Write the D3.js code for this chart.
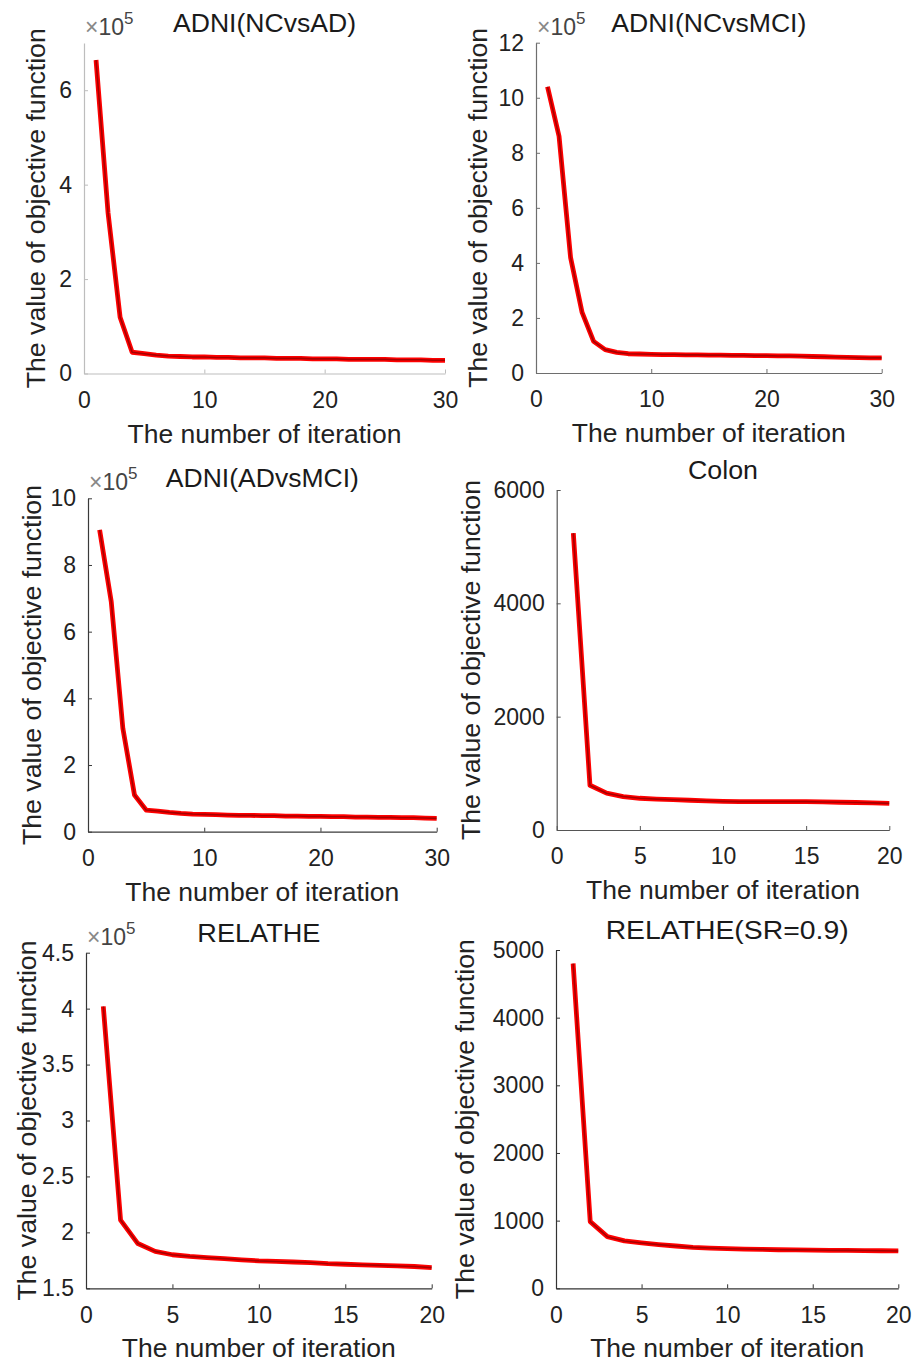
<!DOCTYPE html>
<html lang="en">
<head>
  <meta charset="UTF-8">
  <title>Objective function convergence</title>
  <script src="https://d3js.org/d3.v7.min.js"></script>
  <style>
    body {
      margin: 0;
      padding: 0;
      background: #ffffff;
    }
    svg text {
      font-family: "Liberation Sans", Arial, sans-serif;
      fill: #1a1a1a;
    }
  </style>
</head>
<body>
  <svg id="chart"></svg>

  <script>
    // iteration numbers
    const iters30 = [1,2,3,4,5,6,7,8,9,10,11,12,13,14,15,16,17,18,19,20,21,22,23,24,25,26,27,28,29,30];
    const iters20 = [1,2,3,4,5,6,7,8,9,10,11,12,13,14,15,16,17,18,19,20];

    // objective values, in the units shown on each y axis (x10^5 where marked)
    const ncVsAd = [6.64, 3.4, 1.19, 0.45, 0.42, 0.39, 0.37, 0.36, 0.35, 0.35, 0.34, 0.34, 0.33, 0.33, 0.33,
                    0.32, 0.32, 0.32, 0.31, 0.31, 0.31, 0.30, 0.30, 0.30, 0.30, 0.29, 0.29, 0.29, 0.28, 0.28];
    const ncVsMci = [10.4, 8.6, 4.2, 2.2, 1.15, 0.85, 0.75, 0.70, 0.69, 0.68, 0.67, 0.67, 0.66, 0.66, 0.65,
                     0.65, 0.64, 0.64, 0.63, 0.63, 0.62, 0.62, 0.61, 0.60, 0.59, 0.58, 0.57, 0.56, 0.55, 0.55];
    const adVsMci = [9.05, 6.9, 3.1, 1.1, 0.65, 0.62, 0.58, 0.55, 0.53, 0.52, 0.51, 0.50, 0.49, 0.49, 0.48,
                     0.48, 0.47, 0.47, 0.46, 0.46, 0.45, 0.45, 0.44, 0.44, 0.43, 0.43, 0.42, 0.42, 0.41, 0.40];
    const colon = [5240, 790, 650, 590, 560, 545, 535, 525, 515, 505, 500, 500, 500, 500, 500, 495, 490, 485, 478, 470];
    const relathe = [4.02, 2.11, 1.90, 1.83, 1.80, 1.785, 1.775, 1.765, 1.755, 1.745, 1.74, 1.735, 1.73, 1.72,
                     1.715, 1.71, 1.705, 1.70, 1.695, 1.685];
    const relatheSr = [4800, 985, 763, 700, 670, 645, 625, 605, 595, 585, 580, 575, 570, 568, 565, 562, 560, 558, 555, 552];

    // tick labels
    const xTicks30 = [0, 10, 20, 30];
    const xTicks20 = [0, 5, 10, 15, 20];
    const yTicksNcAd = [0, 2, 4, 6];
    const yTicksNcMci = [0, 2, 4, 6, 8, 10, 12];
    const yTicksAdMci = [0, 2, 4, 6, 8, 10];
    const yTicksColon = [0, 2000, 4000, 6000];
    const yTicksRelathe = [1.5, 2, 2.5, 3, 3.5, 4, 4.5];
    const yTicksSr = [0, 1000, 2000, 3000, 4000, 5000];

    const titles = ["ADNI(NCvsAD)", "ADNI(NCvsMCI)", "ADNI(ADvsMCI)", "Colon", "RELATHE", "RELATHE(SR=0.9)"];
    const xLabel = "The number of iteration";
    const yLabel = "The value of objective function";

    // panel layout (plot rectangles in page pixels)
    const panels = [
      { title: titles[0], x: iters30, y: ncVsAd, xDom: [0, 30], yDom: [0, 7], xt: xTicks30, yt: yTicksNcAd, exp: true,
        left: 84, right: 445, top: 43, bottom: 373.5, yOff: 48, titleW: 183, axis: "#bdbdbd" },
      { title: titles[1], x: iters30, y: ncVsMci, xDom: [0, 30], yDom: [0, 12], xt: xTicks30, yt: yTicksNcMci, exp: true,
        left: 536, right: 881.7, top: 42.7, bottom: 373, yOff: 58, titleW: 195, axis: "#6e6e6e" },
      { title: titles[2], x: iters30, y: adVsMci, xDom: [0, 30], yDom: [0, 10], xt: xTicks30, yt: yTicksAdMci, exp: true,
        left: 88, right: 436.7, top: 498.3, bottom: 831.7, yOff: 56, titleW: 193, axis: "#3a3a3a" },
      { title: titles[3], x: iters20, y: colon, xDom: [0, 20], yDom: [0, 6000], xt: xTicks20, yt: yTicksColon, exp: false,
        left: 556.7, right: 889.3, top: 490, bottom: 830, yOff: 86, titleW: 70, axis: "#555" },
      { title: titles[4], x: iters20, y: relathe, xDom: [0, 20], yDom: [1.5, 4.5], xt: xTicks20, yt: yTicksRelathe, exp: true,
        left: 86, right: 431.7, top: 952.7, bottom: 1288.3, yOff: 59, titleW: 123, axis: "#333" },
      { title: titles[5], x: iters20, y: relatheSr, xDom: [0, 20], yDom: [0, 5000], xt: xTicks20, yt: yTicksSr, exp: false,
        left: 556, right: 898.3, top: 950, bottom: 1288.3, yOff: 91, titleW: 243, axis: "#333" }
    ];

    const width = 916, height = 1365;
    const svg = d3.select("#chart").attr("width", width).attr("height", height);

    panels.forEach(p => {
      const g = svg.append("g");
      const x = d3.scaleLinear().domain(p.xDom).range([p.left, p.right]);
      const y = d3.scaleLinear().domain(p.yDom).range([p.bottom, p.top]);

      // x axis (MATLAB style: inward ticks, no box)
      const gx = g.append("g")
        .attr("transform", `translate(0,${p.bottom})`)
        .call(d3.axisBottom(x).tickValues(p.xt).tickFormat(d => String(d))
          .tickSizeInner(-4).tickSizeOuter(0).tickPadding(18));
      // y axis
      const gy = g.append("g")
        .attr("transform", `translate(${p.left},0)`)
        .call(d3.axisLeft(y).tickValues(p.yt).tickFormat(d => String(d))
          .tickSizeInner(-4).tickSizeOuter(0).tickPadding(12));

      [gx, gy].forEach(a => {
        a.select(".domain").attr("stroke", p.axis).attr("stroke-width", 1.2);
        a.selectAll(".tick line").attr("stroke", p.axis);
        a.selectAll(".tick text").attr("font-size", 23).style("fill", "#222");
      });

      // the curve: red line with a dark core
      const line = d3.line().x((d, i) => x(p.x[i])).y(d => y(d));
      g.append("path").datum(p.y)
        .attr("d", line)
        .attr("fill", "none")
        .attr("stroke", "#ff0000")
        .attr("stroke-width", 4.8)
        .attr("stroke-linejoin", "round");
      g.append("path").datum(p.y)
        .attr("d", line)
        .attr("fill", "none")
        .attr("stroke", "#3a0000")
        .attr("stroke-width", 1.6)
        .attr("stroke-opacity", 0.45)
        .attr("stroke-linejoin", "round");

      // title
      g.append("text")
        .attr("x", (p.left + p.right) / 2)
        .attr("y", p.top - 20)
        .attr("text-anchor", "middle")
        .attr("dominant-baseline", "central")
        .attr("font-size", 25)
        .attr("textLength", p.titleW)
        .attr("lengthAdjust", "spacingAndGlyphs")
        .text(p.title);

      // x label
      g.append("text")
        .attr("x", (p.left + p.right) / 2)
        .attr("y", p.bottom + 60)
        .attr("text-anchor", "middle")
        .attr("dominant-baseline", "central")
        .attr("font-size", 25)
        .attr("textLength", 274)
        .attr("lengthAdjust", "spacingAndGlyphs")
        .style("fill", "#222")
        .text(xLabel);

      // y label
      const cy = (p.top + p.bottom) / 2;
      g.append("text")
        .attr("transform", `translate(${p.left - p.yOff},${cy}) rotate(-90)`)
        .attr("text-anchor", "middle")
        .attr("dominant-baseline", "central")
        .attr("font-size", 25)
        .attr("textLength", 360)
        .attr("lengthAdjust", "spacingAndGlyphs")
        .style("fill", "#222")
        .text(yLabel);

      // exponent marker
      if (p.exp) {
        const t = g.append("text")
          .attr("x", p.left + 1)
          .attr("y", p.top - 8)
          .attr("font-size", 23)
          .style("fill", "#444");
        t.append("tspan").text("\u00d7").style("fill", "#888");
        t.append("tspan").text("10");
        t.append("tspan").attr("font-size", 17).attr("dy", -11).text("5");
      }
    });
  </script>
</body>
</html>
